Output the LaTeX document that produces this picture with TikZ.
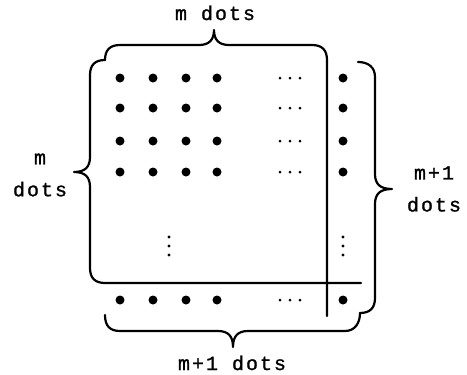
\documentclass[tikz,border=0pt]{standalone}
\usepackage{fontspec}
\setmonofont[LetterSpace=10,FakeBold=1.2]{Liberation Mono}
\begin{document}
\begin{tikzpicture}[x=1pt,y=-1pt,
  ln/.style={line width=2.2pt, line cap=round, line join=round},
  bigdot/.style={fill=black},
  lbl/.style={font=\ttfamily\fontsize{20}{32}\selectfont, inner sep=0pt}]
\path[use as bounding box] (0,0) rectangle (467,375);
% top brace and vertical line
\draw[ln] (105,60) .. controls (105,50) and (110,45) .. (120,45) -- (199,45)
  .. controls (209,45) and (214,40) .. (214,30)
  .. controls (214,40) and (219,45) .. (229,45) -- (312,45)
  .. controls (322,45) and (327,50) .. (327,60) -- (327,316);
% left brace and horizontal line
\draw[ln] (105,60) .. controls (95,60) and (90,65) .. (90,75) -- (90,157)
  .. controls (90,167) and (85,172) .. (74,172)
  .. controls (85,172) and (90,177) .. (90,187) -- (90,268)
  .. controls (90,278) and (95,283) .. (105,283) -- (361,283);
% right brace
\draw[ln] (358,62) .. controls (368,62) and (375,67) .. (375,77) -- (375,174)
  .. controls (375,184) and (380,189) .. (392,189)
  .. controls (380,189) and (375,194) .. (375,204) -- (375,298)
  .. controls (375,308) and (370,313) .. (360,313);
% bottom brace
\draw[ln] (360,313) .. controls (360,323) and (355,331) .. (345,331) -- (248,331)
  .. controls (238,331) and (233,336) .. (233,347)
  .. controls (233,336) and (228,331) .. (218,331) -- (120,331)
  .. controls (110,331) and (105,326) .. (105,315);
% dots
\foreach \y in {78,108,141,172} {
  \foreach \x in {120,153,186,217,343} { \fill[bigdot] (\x,\y) circle (4.5); }
  \foreach \x in {280,290,300} { \fill (\x,\y) circle (1.5); }
}
\foreach \x in {120,153,186,217,343} { \fill[bigdot] (\x,300) circle (4.5); }
\foreach \x in {280,290,300} { \fill (\x,300) circle (1.5); }
\foreach \x in {169,343} { \foreach \y in {237,246,255} { \fill (\x,\y) circle (1.6); } }
% labels
\node[lbl, anchor=base] (top) at (215,20) {m dots};
\node[lbl, align=center] (left) at (40,175) {m\\dots};
\node[lbl, align=center] (right) at (434,189) {m+1\\dots};
\node[lbl, anchor=base] (bottom) at (232,370) {m+1 dots};
\end{tikzpicture}
\end{document}
